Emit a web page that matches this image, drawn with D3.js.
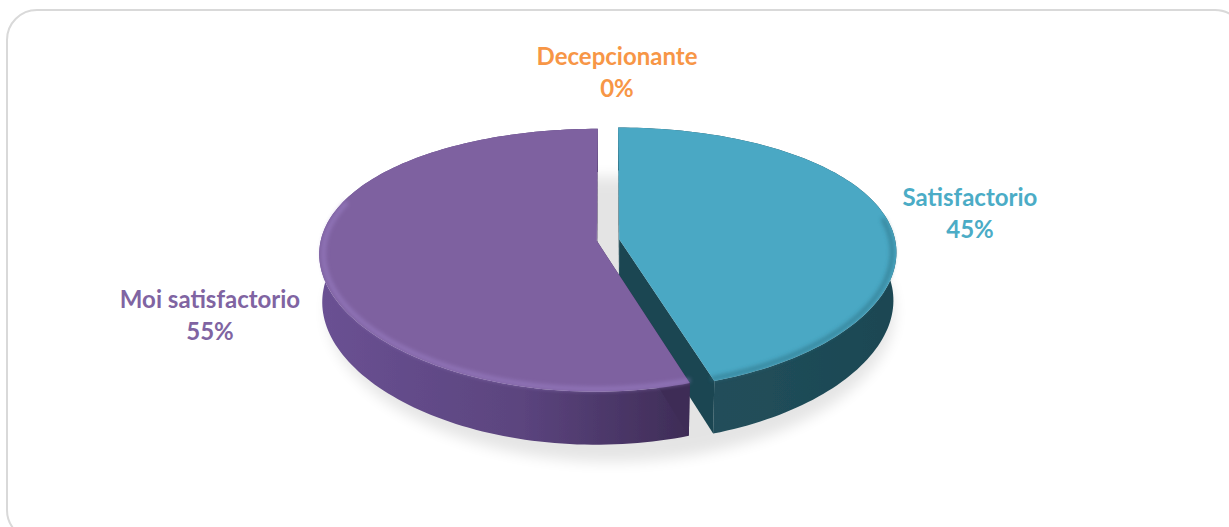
<!DOCTYPE html>
<html>
<head>
<meta charset="utf-8">
<script src="https://cdn.jsdelivr.net/npm/d3@7/dist/d3.min.js"></script>
<style>
  html, body { margin: 0; padding: 0; background: #fff; }
  svg { display: block; }
  .lbl { font-family: Lato, "Open Sans", sans-serif; font-weight: 700; font-size: 24px; }
</style>
</head>
<body>
<svg id="chart" width="1229" height="527"></svg>
<script>
// Survey result shares (percent), slices run clockwise from 12 o'clock
const categories = ["Decepcionante", "Satisfactorio", "Moi satisfactorio"];
const values = [0, 45, 55];
const valueLabels = ["0%", "45%", "55%"];

// Palette per category: top face, wall (light end), wall (dark end), rim highlight
const topColors  = ["#F79646", "#4AA8C4", "#7E61A0"];
const wallLight  = ["#b86a2c", "#22505c", "#6a5193"];
const wallDark   = ["#8a4e1e", "#1b4652", "#3e2c56"];
const rimColors  = ["#f9b27a", "#2f7588", "#9b80c6"];
const labelColors = ["#F79646", "#4BACC6", "#8064A2"];

const svg = d3.select("#chart");

// Card frame
svg.append("rect")
  .attr("x", 7).attr("y", 10)
  .attr("width", 1238).attr("height", 530)
  .attr("rx", 30).attr("ry", 30)
  .attr("fill", "#fff")
  .attr("stroke", "#d9d9d9").attr("stroke-width", 2);

// Perspective camera for the tilted pie (pie radius = 1).
// Horizontal and vertical foreshortening are tuned separately.
const cam = {
  cx: 608, cy: 240,
  F: 1637, D: 5.98,        // vertical focal length / distance
  Fx: 2481, Dx: 8.99,      // horizontal focal length / distance
  phi: Math.asin(0.4688)   // camera elevation
};
const sinP = Math.sin(cam.phi), cosP = Math.cos(cam.phi);
const thickness = 0.2;
const explode = 0.041;

function project(x, y, z) {
  const d = cam.D - (y * sinP + z * cosP);
  const dx = cam.Dx - (y * sinP + z * cosP);
  return [cam.cx + cam.Fx * x / dx, cam.cy - cam.F * (y * cosP - z * sinP) / d];
}
// point on the pie at angle a (clockwise from the back), radius r, height y
function pt(a, r, y, off) {
  return project(off[0] + r * Math.sin(a), y, off[1] - r * Math.cos(a));
}

const pie = d3.pie().sort(null).value(d => d);
const arcs = pie(values);
const line = d3.line();
const closed = pts => line(pts) + "Z";

const defs = svg.append("defs");
defs.append("filter").attr("id", "shadowBlur")
  .attr("x", "-20%").attr("y", "-20%").attr("width", "140%").attr("height", "140%")
  .append("feGaussianBlur").attr("stdDeviation", 7);
defs.append("filter").attr("id", "rimBlur")
  .attr("x", "-10%").attr("y", "-10%").attr("width", "120%").attr("height", "120%")
  .append("feGaussianBlur").attr("stdDeviation", 2.2);
defs.append("filter").attr("id", "edgeBlur")
  .append("feGaussianBlur").attr("stdDeviation", 0.6);

function arcPoints(a0, a1, r, y, off, n) {
  const pts = [];
  for (let i = 0; i <= n; i++) pts.push(pt(a0 + (a1 - a0) * i / n, r, y, off));
  return pts;
}

// Soft floor shadow under the whole pie
const floorPts = arcPoints(0, 2 * Math.PI, 1.03, -thickness - 0.02, [0.01, 0.04], 120);
svg.append("path")
  .attr("d", closed(floorPts))
  .attr("fill", "#000").attr("opacity", 0.1)
  .attr("filter", "url(#shadowBlur)");

// right-hand slices first, so the left slice overlaps at the front seam
const slices = arcs.map((a, i) => ({ ...a, i }))
  .filter(a => a.endAngle - a.startAngle > 1e-6)
  .sort((p, q) => p.startAngle - q.startAngle);

slices.forEach(s => {
  const i = s.i;
  const mid = (s.startAngle + s.endAngle) / 2;
  const off = [explode * Math.sin(mid), -explode * Math.cos(mid)];
  const n = Math.max(8, Math.round((s.endAngle - s.startAngle) * 40));
  const g = svg.append("g").attr("class", "slice");

  // wall gradient across the slice's screen width
  const topArc = arcPoints(s.startAngle, s.endAngle, 1, 0, off, n);
  const botArc = arcPoints(s.startAngle, s.endAngle, 1, -thickness, off, n);
  const xs = topArc.map(p => p[0]);
  const gid = "wall" + i;
  const grad = defs.append("linearGradient").attr("id", gid)
    .attr("gradientUnits", "userSpaceOnUse")
    .attr("x1", d3.min(xs)).attr("x2", d3.max(xs)).attr("y1", 0).attr("y2", 0);
  grad.append("stop").attr("offset", "0%").attr("stop-color", wallLight[i]);
  grad.append("stop").attr("offset", "55%").attr("stop-color", d3.interpolateRgb(wallLight[i], wallDark[i])(0.35));
  grad.append("stop").attr("offset", "100%").attr("stop-color", wallDark[i]);

  // outer wall
  g.append("path")
    .attr("d", closed(topArc.concat(botArc.slice().reverse())))
    .attr("fill", `url(#${gid})`).attr("filter", "url(#edgeBlur)");

  // radial cut faces
  [s.startAngle, s.endAngle].forEach(a => {
    const face = [pt(a, 0, 0, off), pt(a, 1, 0, off), pt(a, 1, -thickness, off), pt(a, 0, -thickness, off)];
    g.append("path").attr("d", closed(face)).attr("fill", wallDark[i]);
  });

  // top face
  const topFace = [pt(0, 0, 0, off)].concat(topArc);
  g.append("path").attr("d", closed(topFace)).attr("fill", topColors[i]);

  // rounded bevel highlight along the front of the rim
  const frontA0 = Math.max(s.startAngle, Math.PI * 0.45);
  const frontA1 = Math.min(s.endAngle, Math.PI * 1.6);
  if (frontA1 > frontA0) {
    const rim = arcPoints(frontA0, frontA1, 0.985, 0, off, 60);
    g.append("path").attr("d", line(rim))
      .attr("fill", "none").attr("stroke", rimColors[i])
      .attr("stroke-width", 4).attr("stroke-linecap", "round")
      .attr("opacity", 0.7).attr("filter", "url(#rimBlur)");
  }
});

// Category and value labels, positioned outside each slice
const labelLayout = {
  "Decepcionante":     { x: 617, y: 65 },
  "Satisfactorio":     { x: 970, y: 206 },
  "Moi satisfactorio": { x: 210, y: 308 }
};
categories.forEach((c, i) => {
  const p = labelLayout[c];
  const t = svg.append("text").attr("class", "lbl")
    .attr("text-anchor", "middle").attr("fill", labelColors[i]);
  t.append("tspan").attr("x", p.x).attr("y", p.y).text(c);
  t.append("tspan").attr("x", p.x).attr("y", p.y + 32).text(valueLabels[i]);
});
</script>
</body>
</html>
